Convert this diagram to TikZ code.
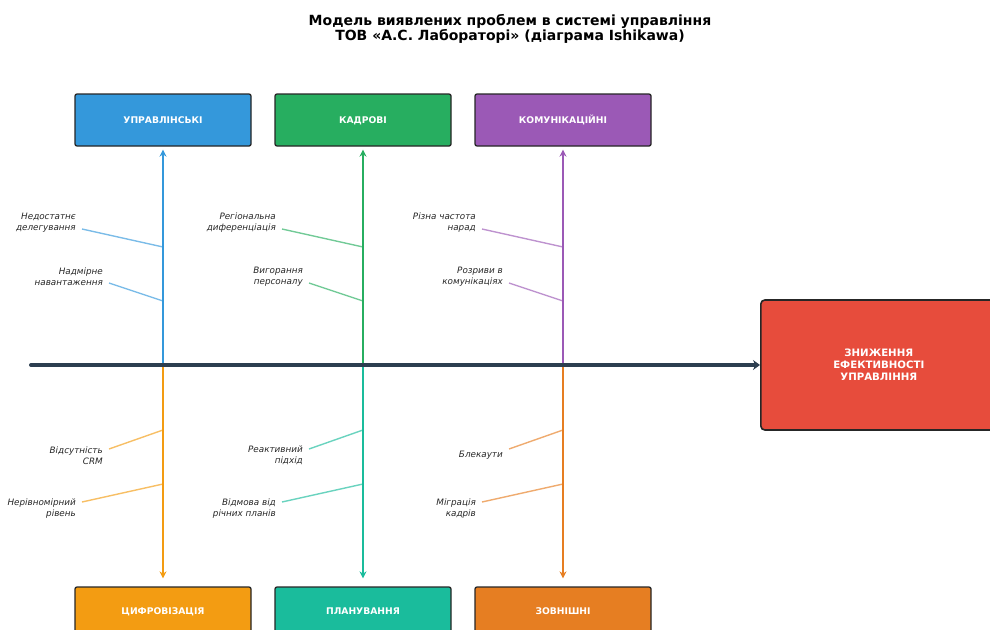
\documentclass[tikz,border=0pt]{standalone}
\usepackage{fontspec}
\setmainfont{DejaVu Sans}
\usetikzlibrary{arrows.meta}
\definecolor{cblue}{HTML}{3498DB}
\definecolor{cgreen}{HTML}{27AE60}
\definecolor{cpurple}{HTML}{9B59B6}
\definecolor{corange}{HTML}{F39C12}
\definecolor{cteal}{HTML}{1ABC9C}
\definecolor{cdorange}{HTML}{E67E22}
\definecolor{cred}{HTML}{E74C3C}
\definecolor{cspine}{HTML}{2C3E50}
\begin{document}
\begin{tikzpicture}[x=1pt,y=-1pt,
  catbox/.style={draw=black!85,line width=1.3pt,rounded corners=2pt,minimum width=176pt,minimum height=52pt,
    text=white,font=\fontsize{9.2}{10}\selectfont\bfseries,inner sep=0pt,text height=6.7pt,text depth=0pt},
  effbox/.style={draw=black!85,fill=cred,line width=1.6pt,rounded corners=4pt,minimum width=236pt,minimum height=130pt,
    text=white,font=\fontsize{10.2}{12}\selectfont\bfseries,align=center,anchor=west},
  spine/.style={line width=2.8pt,-{Stealth[length=7pt,width=7pt]}},
  branch/.style={line width=1.4pt,opacity=0.65},
  cause/.style={font=\fontsize{8.8}{11}\selectfont\itshape,text=black!85,align=right,anchor=east,inner sep=0pt}]
\useasboundingbox (0,0) rectangle (990,629);
\clip (0,0) rectangle (990,629);

\node[font=\fontsize{14}{15}\selectfont\bfseries,align=center] (title) at (510,29)
  {Модель виявлених проблем в системі управління\\ТОВ «А.С. Лабораторі» (діаграма Ishikawa)};

% category boxes
\node[catbox,fill=cblue] (c1) at (163,120) {УПРАВЛІНСЬКІ};
\node[catbox,fill=cgreen] (c2) at (363,120) {КАДРОВІ};
\node[catbox,fill=cpurple] (c3) at (563,120) {КОМУНІКАЦІЙНІ};
\node[catbox,fill=corange] (c4) at (163,613) {\raisebox{1.5pt}{ЦИФРОВІЗАЦІЯ}};
\node[catbox,fill=cteal] (c5) at (363,613) {\raisebox{1.5pt}{ПЛАНУВАННЯ}};
\node[catbox,fill=cdorange] (c6) at (563,613) {\raisebox{1.5pt}{ЗОВНІШНІ}};

% effect
\node[effbox] (eff) at (760,365) {ЗНИЖЕННЯ\\ЕФЕКТИВНОСТІ\\УПРАВЛІННЯ};

% spine junctions
\coordinate (j1) at (163,365);
\coordinate (j2) at (363,365);
\coordinate (j3) at (563,365);
\coordinate (tail) at (31,365);

% category spines
\draw[spine,cblue,shorten >=3pt] (j1) -- (c1.south);
\draw[spine,cgreen,shorten >=3pt] (j2) -- (c2.south);
\draw[spine,cpurple,shorten >=3pt] (j3) -- (c3.south);
\draw[spine,corange,shorten >=8pt] (j1) -- (c4.north);
\draw[spine,cteal,shorten >=8pt] (j2) -- (c5.north);
\draw[spine,cdorange,shorten >=8pt] (j3) -- (c6.north);

% main spine
\draw[line width=4pt,cspine,line cap=round,-{Stealth[length=7pt,width=10pt]}] (tail) -- (eff.west);

% branch points
\foreach \x/\n in {163/1,363/2,563/3}{
  \coordinate (u\n a) at (\x,247);
  \coordinate (u\n b) at (\x,301);
  \coordinate (d\n a) at (\x,430);
  \coordinate (d\n b) at (\x,484);
}

% upper causes
\node[cause] (l1a) at (76,222.5) {Недостатнє\\делегування};
\node[cause] (l1b) at (103,276.5) {Надмірне\\навантаження};
\node[cause] (l2a) at (276,222.5) {Регіональна\\диференціація};
\node[cause] (l2b) at (303,276.5) {Вигорання\\персоналу};
\node[cause] (l3a) at (476,222.5) {Різна частота\\нарад};
\node[cause] (l3b) at (503,276.5) {Розриви в\\комунікаціях};
% lower causes
\node[cause] (l4a) at (103,455.5) {Відсутність\\CRM};
\node[cause] (l4b) at (76,508.5) {Нерівномірний\\рівень};
\node[cause] (l5a) at (303,455.5) {Реактивний\\підхід};
\node[cause] (l5b) at (276,508.5) {Відмова від\\річних планів};
\node[cause] (l6a) at (503,455) {Блекаути};
\node[cause] (l6b) at (476,508.5) {Міграція\\кадрів};

% branch start coordinates
\coordinate (s1a) at (82,229);  \coordinate (s1b) at (109,283);
\coordinate (s2a) at (282,229); \coordinate (s2b) at (309,283);
\coordinate (s3a) at (482,229); \coordinate (s3b) at (509,283);
\coordinate (s4a) at (109,449); \coordinate (s4b) at (82,502);
\coordinate (s5a) at (309,449); \coordinate (s5b) at (282,502);
\coordinate (s6a) at (509,449); \coordinate (s6b) at (482,502);

\draw[branch,cblue] (s1a) -- (u1a);
\draw[branch,cblue] (s1b) -- (u1b);
\draw[branch,cgreen] (s2a) -- (u2a);
\draw[branch,cgreen] (s2b) -- (u2b);
\draw[branch,cpurple] (s3a) -- (u3a);
\draw[branch,cpurple] (s3b) -- (u3b);
\draw[branch,corange] (s4a) -- (d1a);
\draw[branch,corange] (s4b) -- (d1b);
\draw[branch,cteal] (s5a) -- (d2a);
\draw[branch,cteal] (s5b) -- (d2b);
\draw[branch,cdorange] (s6a) -- (d3a);
\draw[branch,cdorange] (s6b) -- (d3b);
\end{tikzpicture}
\end{document}
